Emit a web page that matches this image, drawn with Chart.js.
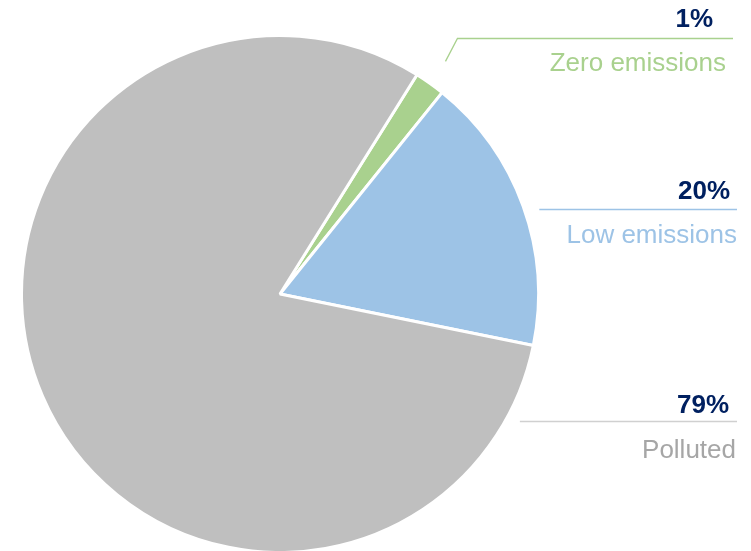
<!DOCTYPE html>
<html>
<head>
<meta charset="utf-8">
<script src="https://cdn.jsdelivr.net/npm/chart.js@4/dist/chart.umd.min.js"></script>
<style>
html,body{margin:0;padding:0;background:#fff;}
#wrap{width:751px;height:551px;position:relative;}
</style>
</head>
<body>
<div id="wrap"><canvas id="c" width="751" height="551"></canvas></div>
<script>
// Data
const categories = ['Zero emissions', 'Low emissions', 'Polluted'];
const shareValues = [1.9, 17.4, 80.7];       // slice sizes as drawn
const percentLabels = ['1%', '20%', '79%'];  // printed labels

// Styles
const sliceColors = ['#A9D18E', '#9DC3E6', '#BFBFBF'];
const labelColors = ['#A9D18E', '#9DC3E6', '#A6A6A6'];
const lineColors = ['#A9D18E', '#9DC3E6', '#D0D0D0'];
const navy = '#002060';

// Callout layout (line y, line end x, percent right x / baseline, name right x / baseline)
const callouts = [
  {lineY: 38.5, lineEnd: 733, elbow: true, pctX: 713, pctY: 27, nameX: 726, nameY: 71},
  {lineY: 209.5, lineEnd: 737, elbow: false, pctX: 730, pctY: 199, nameX: 737, nameY: 243},
  {lineY: 421.5, lineEnd: 737, elbow: false, pctX: 729, pctY: 413, nameX: 736, nameY: 458}
];

const calloutPlugin = {
  id: 'callouts',
  afterDraw(chart) {
    const ctx = chart.ctx;
    const arcs = chart.getDatasetMeta(0).data;
    ctx.save();
    arcs.forEach((arc, i) => {
      const c = callouts[i];
      const cx = arc.x, cy = arc.y, R = arc.outerRadius;
      ctx.strokeStyle = lineColors[i];
      ctx.lineWidth = 1.3;
      ctx.beginPath();
      if (c.elbow) {
        const mid = (arc.startAngle + arc.endAngle) / 2;
        const sx = cx + Math.cos(mid) * (R + 27);
        const sy = cy + Math.sin(mid) * (R + 27);
        ctx.moveTo(sx, sy);
        ctx.lineTo(sx + 12, c.lineY);
        ctx.lineTo(c.lineEnd, c.lineY);
      } else {
        const dy = c.lineY - cy;
        const sx = cx + Math.sqrt(Math.max(R * R - dy * dy, 0)) + 15;
        ctx.moveTo(sx, c.lineY);
        ctx.lineTo(c.lineEnd, c.lineY);
      }
      ctx.stroke();
      ctx.textAlign = 'right';
      ctx.textBaseline = 'alphabetic';
      ctx.fillStyle = navy;
      ctx.font = 'bold 26px "Liberation Sans", Arial, sans-serif';
      ctx.fillText(percentLabels[i], c.pctX, c.pctY);
      ctx.fillStyle = labelColors[i];
      ctx.font = '26px "Liberation Sans", Arial, sans-serif';
      ctx.fillText(categories[i], c.nameX, c.nameY);
    });
    ctx.restore();
  }
};

new Chart(document.getElementById('c'), {
  type: 'pie',
  data: {
    labels: categories,
    datasets: [{
      data: shareValues,
      backgroundColor: sliceColors,
      borderColor: '#ffffff',
      borderWidth: 3,
      clip: false
    }]
  },
  options: {
    responsive: false,
    animation: false,
    rotation: 32,
    radius: 258.5,
    layout: {padding: {left: 23, right: 214, top: 37, bottom: 0}},
    plugins: {legend: {display: false}, tooltip: {enabled: false}}
  },
  plugins: [calloutPlugin]
});
</script>
</body>
</html>
